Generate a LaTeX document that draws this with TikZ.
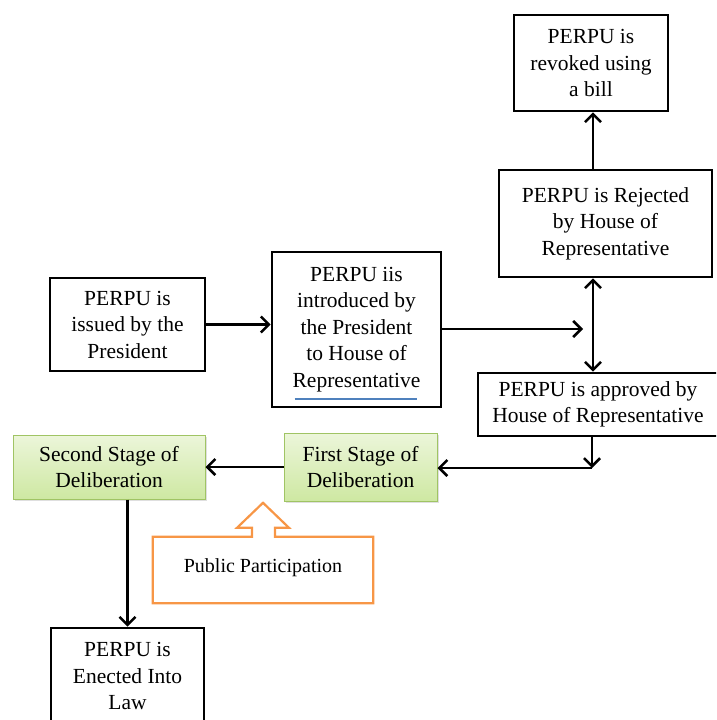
\documentclass[tikz,border=0pt]{standalone}
\usepackage{fontspec}
\setmainfont{Liberation Serif}
\usetikzlibrary{arrows.meta,calc,shadows}
\definecolor{gtop}{RGB}{236,246,218}
\definecolor{gbot}{RGB}{206,232,162}
\definecolor{gedge}{RGB}{160,196,100}
\definecolor{ppor}{RGB}{247,150,70}
\definecolor{ulblue}{RGB}{79,129,189}
\begin{document}
\begin{tikzpicture}[x=1pt,y=-1pt,
  box/.style={draw, line width=2.6pt, align=center, inner sep=0pt, font=\fontsize{21.5}{26.5}\selectfont},
  gbox/.style={draw=gedge, line width=1pt, top color=gtop, bottom color=gbot, align=center, inner sep=0pt,
     font=\fontsize{21.5}{26.5}\selectfont, drop shadow={opacity=0.25,shadow xshift=1.5pt,shadow yshift=-1.5pt}},
  tip/.tip={Straight Barb[length=8pt,width=16pt,line width=2.6pt]},
  arr/.style={line width=2.6pt, -tip},
  darr/.style={line width=2.6pt, tip-tip}
]
\useasboundingbox (0,0) rectangle (716,720);
\clip (0,0) rectangle (716,720);
\node[box, minimum width=154pt, minimum height=96pt] (revoked) at (591,63) {PERPU is\\revoked using\\a bill};
\node[box, minimum width=213pt, minimum height=107pt] (rejected) at (605.5,223.5) {PERPU is Rejected\\by House of\\Representative};
\node[box, minimum width=240pt, minimum height=63pt] (approved) at (598,404.5) {PERPU is approved by\\House of Representative};
\node[box, minimum width=155pt, minimum height=93pt] (issued) at (127.5,324.5) {PERPU is\\issued by the\\President};
\node[box, minimum width=169pt, minimum height=155pt] (introduced) at (356.5,329.5) {PERPU iis\\introduced by\\the President\\to House of\\Representative};
\node[gbox, minimum width=192pt, minimum height=64pt] (second) at (109,467) {Second Stage of\\Deliberation};
\node[gbox, minimum width=153pt, minimum height=68pt] (first) at (360.5,467) {First Stage of\\Deliberation};
\node[box, minimum width=153pt, minimum height=96pt] (enacted) at (127.5,676) {PERPU is\\Enected Into\\Law};
\node[minimum width=220pt, minimum height=66pt, inner sep=0pt, font=\fontsize{20}{24}\selectfont] (pp) at (263,570) {\raisebox{8pt}{Public Participation}};
% callout outline
\draw[ppor, line width=2.2pt, line join=miter]
  (pp.north west) -- ($(pp.north)+(-11,0)$) -- ($(pp.north)+(-11,-9)$) -- ($(pp.north)+(-26,-9)$)
  -- ($(pp.north)+(0,-34)$) -- ($(pp.north)+(26,-9)$) -- ($(pp.north)+(12,-9)$) -- ($(pp.north)+(12,0)$)
  -- (pp.north east) -- (pp.south east) -- (pp.south west) -- cycle;
% underline
\draw[ulblue, line width=2.2pt] ($(introduced.south)+(-62,-9)$) -- ($(introduced.south)+(60,-9)$);
% connectors
\coordinate (vx) at (593,0);
\coordinate (mid) at (583,329);
\coordinate (corner) at (592,468);
\draw[arr] (issued.east) -- (introduced.west |- issued.east);
\draw[arr] (introduced.east |- mid) -- (mid);
\draw[darr] (rejected.south -| vx) -- (approved.north -| vx);
\draw[arr] (rejected.north -| vx) -- (revoked.south -| vx);
\draw[arr] (approved.south -| corner) -- (corner);
\draw[arr] (corner) -- (first.east |- corner);
\draw[arr] (first.west) -- (second.east |- first.west);
\draw[arr] (enacted.north |- second.south) -- (enacted.north);
\end{tikzpicture}
\end{document}
